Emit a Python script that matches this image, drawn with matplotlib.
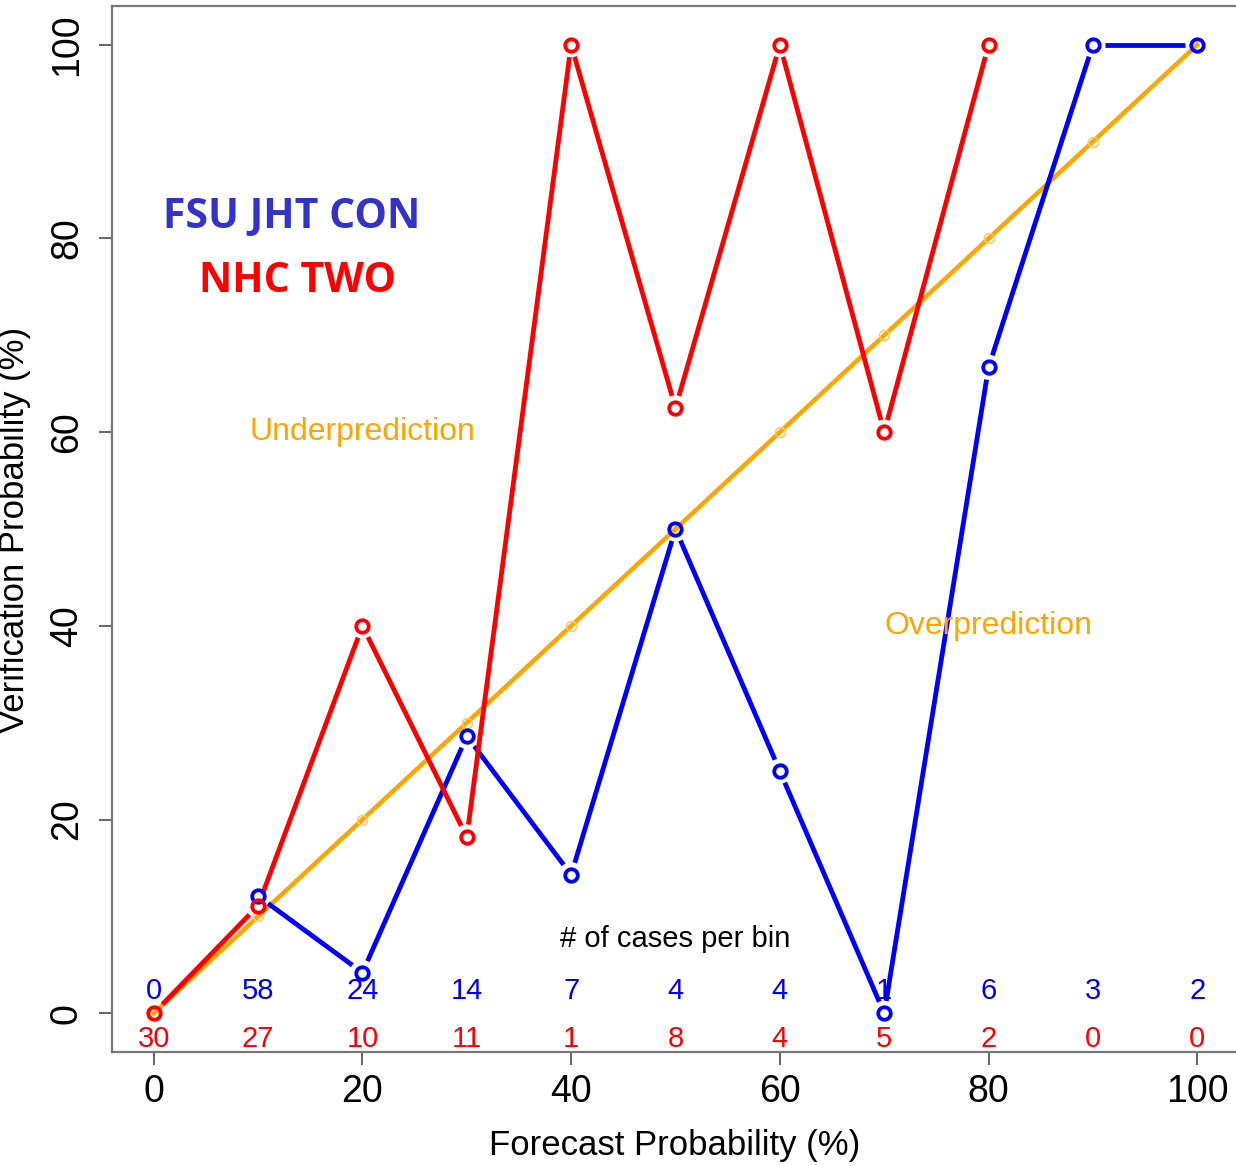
import numpy as np
import matplotlib
matplotlib.use("Agg")
import matplotlib.pyplot as plt

# ---- data ----
bins = [0, 10, 20, 30, 40, 50, 60, 70, 80, 90, 100]
fsu_x = [10, 20, 30, 40, 50, 60, 70, 80, 90, 100]
fsu_y = [12.1, 4.2, 28.6, 14.3, 50.0, 25.0, 0.0, 66.7, 100.0, 100.0]
nhc_x = [0, 10, 20, 30, 40, 50, 60, 70, 80]
nhc_y = [0.0, 11.1, 40.0, 18.2, 100.0, 62.5, 100.0, 60.0, 100.0]
fsu_counts = [0, 58, 24, 14, 7, 4, 4, 1, 6, 3, 2]
nhc_counts = [30, 27, 10, 11, 1, 8, 4, 5, 2, 0, 0]
xticks = [0, 20, 40, 60, 80, 100]
yticks = [0, 20, 40, 60, 80, 100]

W, H = 1236, 1166
DPI = 100
fig = plt.figure(figsize=(W / DPI, H / DPI), dpi=DPI)
L, R, B, T = 112, 1239, 1052, 6
ax = fig.add_axes([L / W, 1 - B / H, (R - L) / W, (B - T) / H])
ax.set_xlim(-4, 104)
ax.set_ylim(-4, 104)

FONT = "Liberation Sans"
SPINE = "#777777"
for s in ax.spines.values():
    s.set_color(SPINE)
    s.set_linewidth(1.6)

ax.set_xticks(xticks)
ax.set_yticks(yticks)
ax.set_xticklabels([str(v) for v in xticks], fontsize=27, family=FONT)
ax.set_yticklabels([str(v) for v in yticks], fontsize=27, family=FONT,
                   rotation=90, va="center")
ax.tick_params(axis="both", direction="out", length=9.5, width=1.4,
               color="#666666")
ax.tick_params(axis="x", pad=6)
ax.tick_params(axis="y", pad=10)

fig.text(675 / W, 1 - 1145 / H, "Forecast Probability (%)", fontsize=25,
         family=FONT, ha="center", va="center")
fig.text(15 / W, 1 - 530 / H, "Verification Probability (%)", fontsize=25,
         family=FONT, ha="center", va="center", rotation=90)

fig.canvas.draw()
trans = ax.transData
inv = trans.inverted()
px = DPI / 72.0


def gapped_line(xs, ys, color, lw, gap_px):
    pts = trans.transform(np.column_stack([xs, ys]))
    for i in range(len(pts) - 1):
        p0, p1 = pts[i], pts[i + 1]
        d = p1 - p0
        n = np.hypot(*d)
        if n <= 2 * gap_px:
            continue
        u = d / n
        a = inv.transform(p0 + u * gap_px)
        b = inv.transform(p1 - u * gap_px)
        ax.plot([a[0], b[0]], [a[1], b[1]], color=color, lw=lw,
                solid_capstyle="butt", zorder=3)


# perfect reliability diagonal
ax.plot(bins, bins, color="orange", lw=4.5 / px, zorder=2)
ax.plot(bins, bins, ls="none", marker="o", ms=10 / px, mfc="none",
        mec="#FFC966", mew=1.2, zorder=2.5)

# FSU JHT CON (blue)
gapped_line(fsu_x, fsu_y, "blue", 4.8 / px, 12.5)
ax.plot(fsu_x, fsu_y, ls="none", marker="o", ms=12.5 / px, mfc="none",
        mec="blue", mew=3.8 / px, zorder=4)

# NHC TWO (red)
gapped_line(nhc_x, nhc_y, "red", 4.8 / px, 12.5)
ax.plot(nhc_x, nhc_y, ls="none", marker="o", ms=12.5 / px, mfc="none",
        mec="red", mew=3.8 / px, zorder=4)

# counts
for x, c in zip(bins, fsu_counts):
    ax.text(x, 2.3, str(c), color="blue", fontsize=21, family=FONT,
            ha="center", va="center", zorder=5)
for x, c in zip(bins, nhc_counts):
    ax.text(x, -2.7, str(c), color="red", fontsize=21, family=FONT,
            ha="center", va="center", zorder=5)
ax.text(50, 7.7, "# of cases per bin", color="black", fontsize=21,
        family=FONT, ha="center", va="center")

ax.text(20, 60, "Underprediction", color="orange", fontsize=23, family=FONT,
        ha="center", va="center")
ax.text(80, 40, "Overprediction", color="orange", fontsize=23, family=FONT,
        ha="center", va="center")

fig.text(292 / W, 1 - 217 / H, "FSU JHT CON", color="#3333CC", fontsize=29.5,
         family="Open Sans", weight="bold", ha="center", va="center")
fig.text(298 / W, 1 - 281 / H, "NHC TWO", color="#FF0000", fontsize=29.5,
         family="Open Sans", weight="bold", ha="center", va="center")

fig.savefig("out.png", dpi=DPI)
